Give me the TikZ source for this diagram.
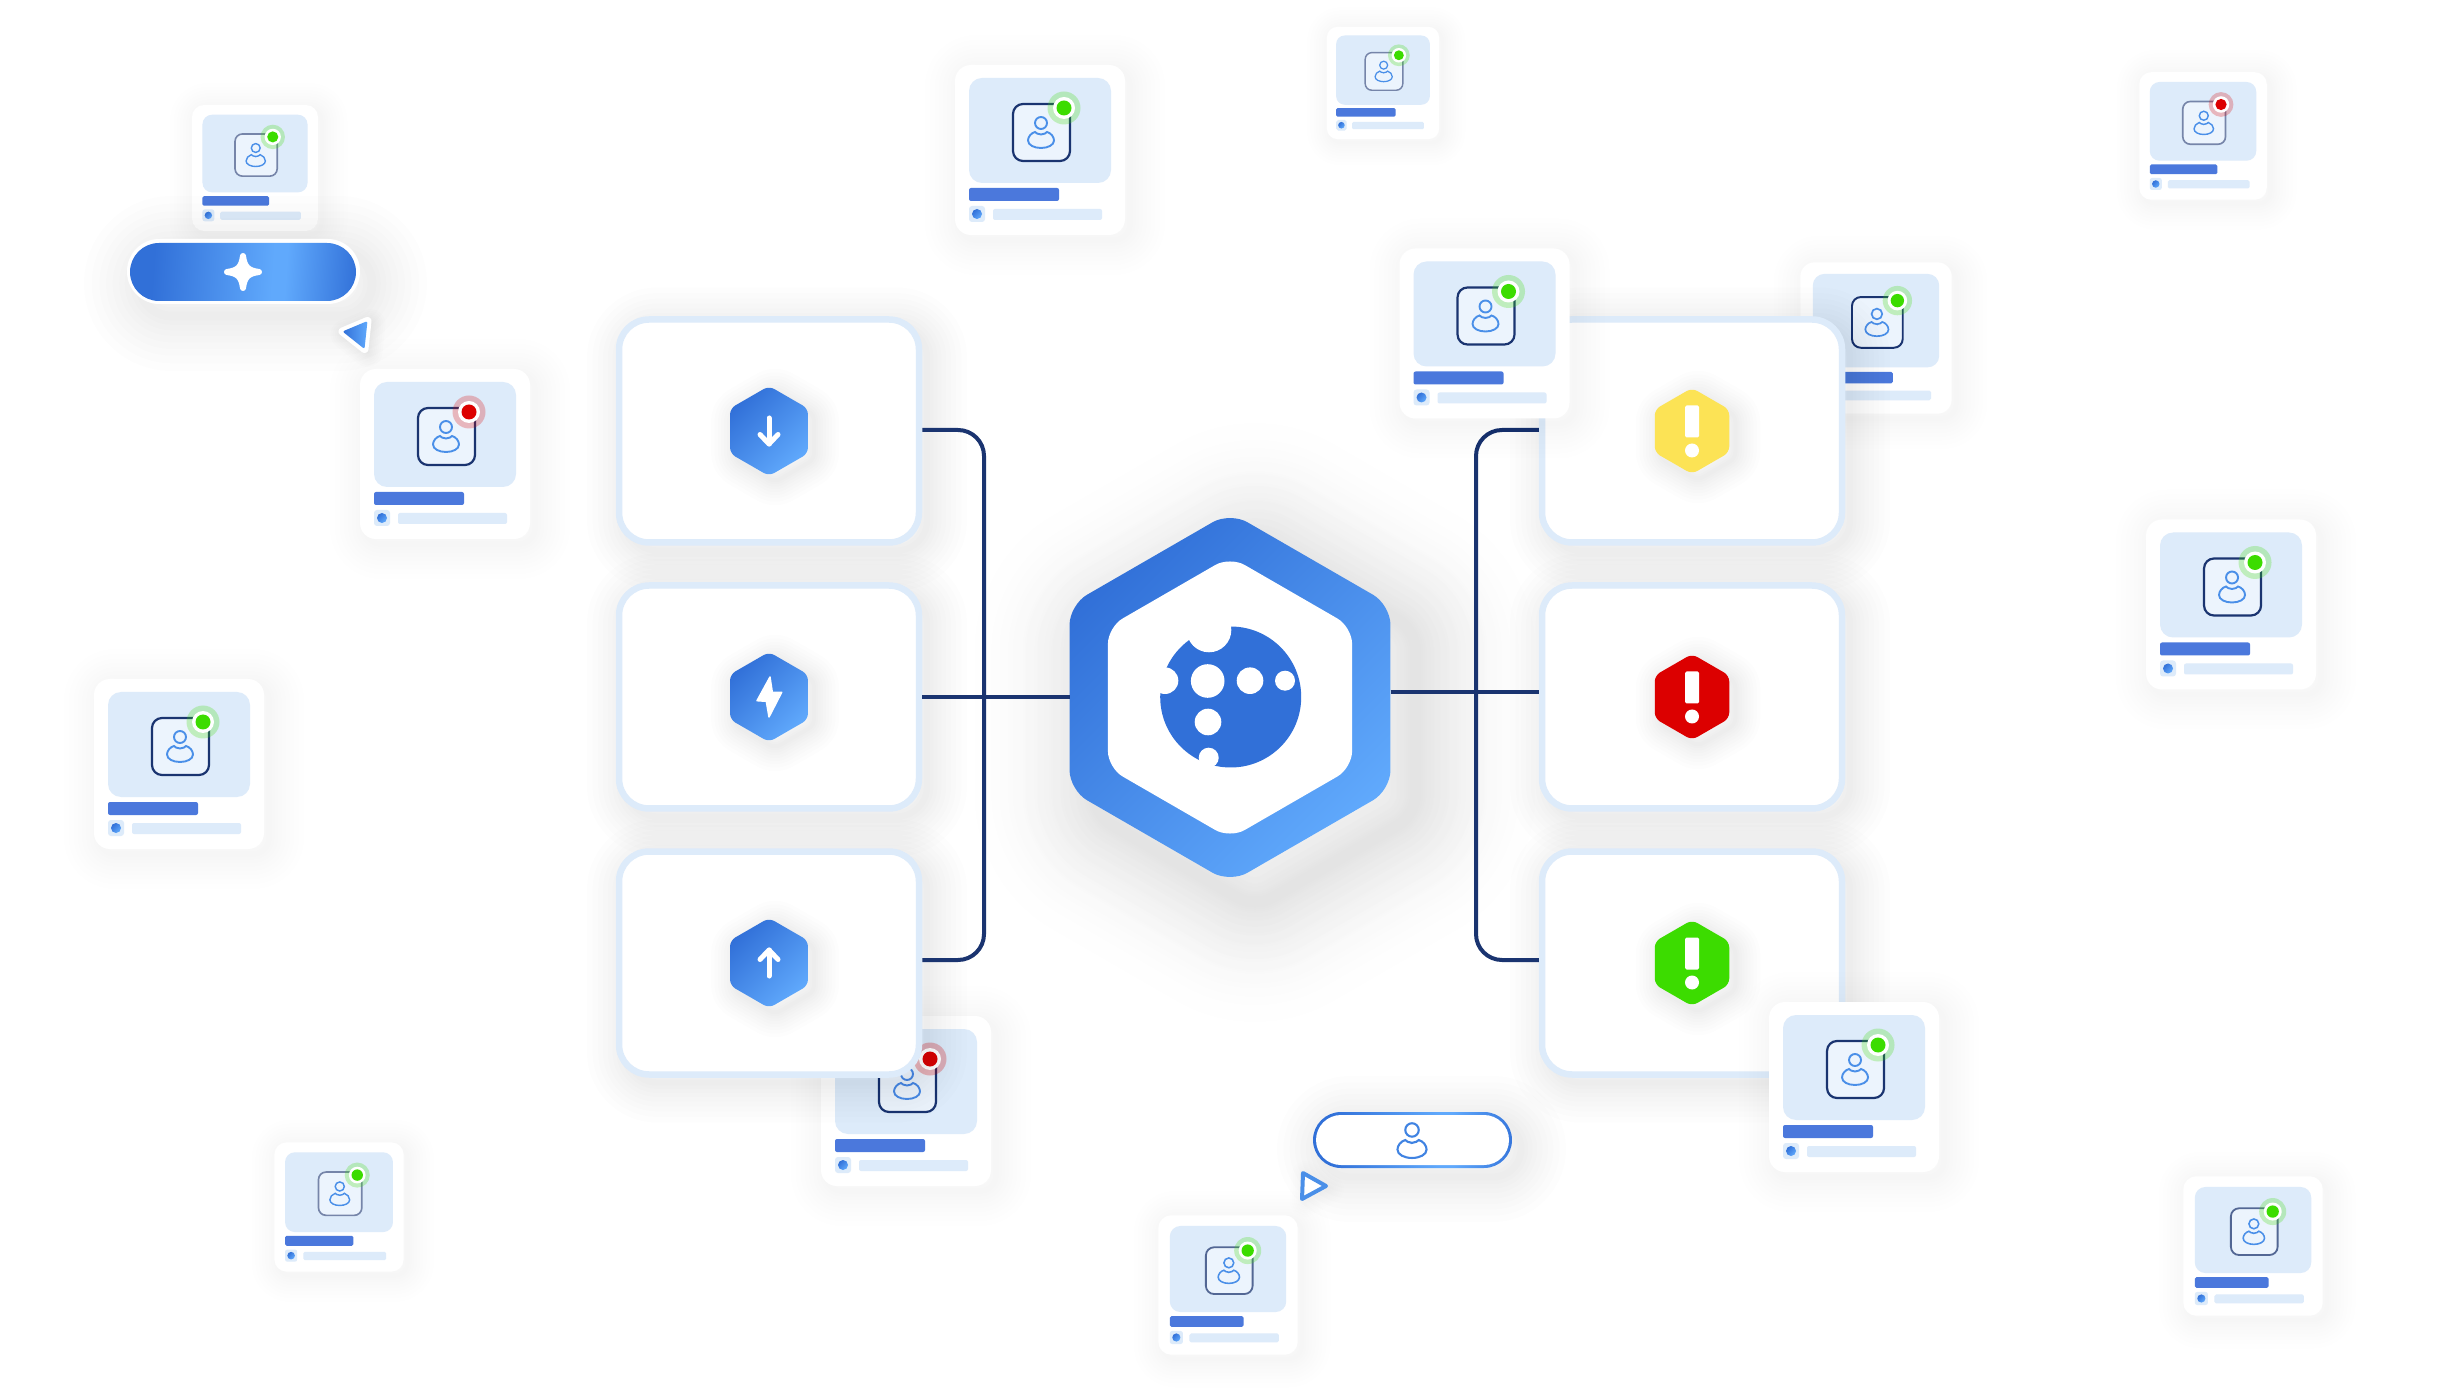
\documentclass[tikz,border=0pt]{standalone}
\usepackage{tikz}
\usetikzlibrary{shapes.geometric,calc}
\definecolor{navy}{RGB}{26,52,112}
\definecolor{blueA}{RGB}{49,112,216}
\definecolor{blueB}{RGB}{96,169,252}
\definecolor{panel}{RGB}{221,235,250}
\definecolor{tile}{RGB}{236,244,253}
\definecolor{barblue}{RGB}{75,120,220}
\definecolor{glyph}{RGB}{74,143,232}
\definecolor{okgreen}{RGB}{60,220,0}
\definecolor{badred}{RGB}{220,0,0}
\definecolor{warnyellow}{RGB}{252,227,85}
\pgfdeclarehorizontalshading{pillblend}{100bp}{color(0bp)=(blueA);color(29bp)=(blueA);color(57bp)=(blueB);color(60bp)=(blueB);color(77bp)=(blueA);color(100bp)=(blueA)}
\newcommand{\personglyph}[2]{%
  \draw[#2,line width=#1] (0,-17) circle[radius=6];
  \draw[#2,line width=#1] (0,-5.5) .. controls (3,-5.5) and (5,-7) .. (6,-8)
    .. controls (10,-7) and (13,-3) .. (13,0.5) .. controls (13,5) and (7,8) .. (0,8)
    .. controls (-7,8) and (-13,5) .. (-13,0.5) .. controls (-13,-3) and (-10,-7) .. (-6,-8)
    .. controls (-5,-7) and (-3,-5.5) .. cycle;
}
% x, y, scale, status colour, frame colour
\newcommand{\usercard}[5]{%
\begin{scope}[shift={(#1,#2)},scale=#3]
  \fill[white,rounded corners=#3*1.6mm,softshade={#3*7mm}{#3*0.5mm}{.0045}] (-85,-85) rectangle (85,85);
  \fill[panel,rounded corners=#3*1.3mm] (-71,-72) rectangle (71,33);
  \filldraw[fill=tile,draw=#5,line width=#3*0.22mm,rounded corners=#3*1mm] (-27,-46) rectangle (30,11);
  \begin{scope}[shift={(1,-10)}]
    \personglyph{#3*0.19mm}{glyph}
  \end{scope}
  \fill[#4,opacity=.25] (24,-42) circle[radius=16.5];
  \fill[white] (24,-42) circle[radius=11];
  \fill[#4] (24,-42) circle[radius=7.5];
  \fill[barblue,rounded corners=#3*0.2mm] (-71,38) rectangle (19,51);
  \fill[panel,rounded corners=#3*0.3mm] (-71,56) rectangle (-55,72);
  \shade[top color=blueA,bottom color=blueB,shading angle=45] (-63,64) circle[radius=5];
  \fill[panel,rounded corners=#3*0.2mm] (-47,59) rectangle (62,70);
\end{scope}}
\begin{document}
\begin{tikzpicture}[
  x=0.1mm,y=-0.1mm,
  haze/.style n args={3}{preaction={draw=black,line join=round,draw opacity=#3,line width=#1,transform canvas={xshift=#2,yshift=-#2}}},
  softshade/.style n args={3}{haze={#1}{#2}{#3},haze={.86*#1}{#2}{#3},haze={.72*#1}{#2}{#3},haze={.6*#1}{#2}{#3},
    haze={.48*#1}{#2}{#3},haze={.36*#1}{#2}{#3},haze={.26*#1}{#2}{#3},haze={.16*#1}{#2}{#3},haze={.08*#1}{#2}{#3}},
  bigcard/.style={rectangle,draw=panel,fill=white,line width=0.65mm,rounded corners=3mm,minimum width=30mm,minimum height=22.3mm,
    inner sep=0pt,outer sep=0.325mm,softshade={8mm}{0.8mm}{.006}},
  hexa/.style={regular polygon,regular polygon sides=6,shape border rotate=30,inner sep=0pt,outer sep=0pt},
  hubhex/.style={hexa,minimum size=37.06mm,rounded corners=2mm,top color=blueA,bottom color=blueB,shading angle=45,
    softshade={24mm}{2.5mm}{.002},softshade={19mm}{2.5mm}{.003},softshade={14mm}{2.5mm}{.003}},
  hubcore/.style={hexa,minimum size=28.2mm,rounded corners=1.7mm,fill=white},
  flowhex/.style={hexa,minimum size=9mm,rounded corners=0.6mm,top color=blueA,bottom color=blueB,shading angle=45,softshade={5mm}{0.6mm}{.007}},
  alerthex/.style={hexa,minimum size=8.6mm,rounded corners=0.6mm,fill=#1,softshade={5mm}{0.6mm}{.007}},
  wire/.style={navy,line width=0.4mm,rounded corners=2.6mm},
  stroke/.style={white,line width=0.5mm,line cap=round,line join=round}]
\useasboundingbox (0,0) rectangle (2458,1394);
% cards lying behind the big boxes
\usercard{906}{1101}{1}{badred}{navy}
\usercard{1876}{338}{.89}{okgreen}{navy}
% big boxes
\node[bigcard] (down) at (769,431) {};
\node[bigcard] (bolt) at (769,697) {};
\node[bigcard] (up) at (769,963) {};
\node[bigcard] (warn) at (1692,431) {};
\node[bigcard] (crit) at (1692,697) {};
\node[bigcard] (good) at (1692,963) {};
% hub
\node[hubhex] (hub) at (1230,697.5) {};
\coordinate (busl) at (984,697);
\coordinate (busr) at (1476,692);
\draw[wire] ([yshift=0.1mm]down.east) -| (busl) |- ([yshift=0.3mm]up.east);
\draw[wire] (bolt.east) -- (hub.west |- bolt.east);
\draw[wire] ([yshift=0.1mm]warn.west) -| (busr) |- ([yshift=0.3mm]good.west);
\draw[wire] (hub.east |- busr) -- (crit.west |- busr);
\node[hubcore] (core) at (hub) {};
\node[circle,fill=blueA,minimum size=14.1mm,inner sep=0pt] (disc) at (1230.7,697) {};
\begin{scope}[shift={(disc.center)}]
  \fill[white] (-21.7,-67) circle[radius=22.3];
  \fill[white] (-65.7,-16.3) circle[radius=13.3];
  \fill[white] (-23,-16) circle[radius=16.8];
  \fill[white] (19.3,-16.3) circle[radius=13.3];
  \fill[white] (54.3,-16.3) circle[radius=10];
  \fill[white] (-22.7,25) circle[radius=13.3];
  \fill[white] (-22,60.7) circle[radius=10];
\end{scope}
% flow icons
\node[flowhex] (downicon) at (769,431) {};
\draw[stroke] ($(downicon)+(0,-13)$) -- ($(downicon)+(0,13)$);
\draw[stroke] ($(downicon)+(-9,3.5)$) -- ($(downicon)+(0,13)$) -- ($(downicon)+(9,3.5)$);
\node[flowhex] (bolticon) at (769,697) {};
\filldraw[white,line width=0.15mm,line join=round,shift={(bolticon.center)}] (1,-20) -- (-12,3.7) -- (-2.7,4.3) -- (0,20) -- (12.7,-4.7) -- (3.3,-4.7) -- cycle;
\node[flowhex] (upicon) at (769,963) {};
\draw[stroke] ($(upicon)+(0,13)$) -- ($(upicon)+(0,-13)$);
\draw[stroke] ($(upicon)+(-9,-3.5)$) -- ($(upicon)+(0,-13)$) -- ($(upicon)+(9,-3.5)$);
% alert icons
\foreach \hx/\hy/\hc/\hn in {1692/431/warnyellow/warnicon,1692/697/badred/criticon,1692/963/okgreen/goodicon}{
  \node[alerthex=\hc] (\hn) at (\hx,\hy) {};
  \fill[white,rounded corners=0.15mm,shift={(\hn.center)}] (-7,-25.5) rectangle (7,6.5);
  \fill[white,shift={(\hn.center)}] (0,19.5) circle[radius=7];
}
% user cards
\usercard{255}{168}{.74}{okgreen}{navy!60}
\usercard{1040}{150}{1}{okgreen}{navy}
\usercard{1383}{83}{.66}{okgreen}{navy!60}
\usercard{2203}{136}{.75}{badred}{navy!60}
\usercard{445}{454}{1}{badred}{navy}
\usercard{179}{764}{1}{okgreen}{navy}
\usercard{339}{1207}{.76}{okgreen}{navy!60}
\usercard{1228}{1285}{.82}{okgreen}{navy!75}
\usercard{1484.5}{333.5}{1}{okgreen}{navy}
\usercard{2231}{604.5}{1}{okgreen}{navy}
\usercard{1854}{1087}{1}{okgreen}{navy}
\usercard{2253}{1246}{.82}{okgreen}{navy!75}
% sparkle pill and pointer
\node[rectangle,fill=white,minimum width=23.3mm,minimum height=6.5mm,rounded corners=3.25mm,inner sep=0pt,softshade={11mm}{1.2mm}{.008}] (sparkbase) at (243.5,271.5) {};
\node[rectangle,minimum width=22.6mm,minimum height=5.8mm,rounded corners=2.9mm,inner sep=0pt,shading=pillblend,shading angle=-4] (spark) at (243,272) {};
\filldraw[white,line width=0.6mm,line join=round,shift={(spark.center)}] (0,-16) .. controls (1.5,-5) and (5,-1.5) .. (16,0)
  .. controls (5,1.5) and (1.5,5) .. (0,16) .. controls (-1.5,5) and (-5,1.5) .. (-16,0)
  .. controls (-5,-1.5) and (-1.5,-5) .. cycle;
\coordinate (pa) at (342.5,331.5);
\coordinate (pb) at (367.5,321);
\coordinate (pc) at (364.5,349);
\filldraw[white,line width=0.8mm,line join=round,softshade={3mm}{0.3mm}{.006}] (pa) -- (pb) -- (pc) -- cycle;
\shade[left color=blueA,right color=blueB,rounded corners=0.2mm] (pa) -- (pb) -- (pc) -- cycle;
% user pill and pointer
\node[rectangle,minimum width=19.9mm,minimum height=5.6mm,rounded corners=2.8mm,inner sep=0pt,shading=pillblend,shading angle=0,softshade={9mm}{0.9mm}{.007}] (userpill) at (1412.5,1140) {};
\node[rectangle,fill=white,minimum width=19.3mm,minimum height=5mm,rounded corners=2.5mm,inner sep=0pt] (userinner) at (userpill) {};
\begin{scope}[shift={(1412,1149)},scale=1.12]
  \personglyph{0.21mm}{glyph!60!blueA}
\end{scope}
\coordinate (qa) at (1303,1173);
\coordinate (qb) at (1326,1186);
\coordinate (qc) at (1302,1199);
\filldraw[fill=white,draw=glyph,line width=0.4mm,line join=round,softshade={3mm}{0.3mm}{.005}] (qa) -- (qb) -- (qc) -- cycle;
\end{tikzpicture}
\end{document}
